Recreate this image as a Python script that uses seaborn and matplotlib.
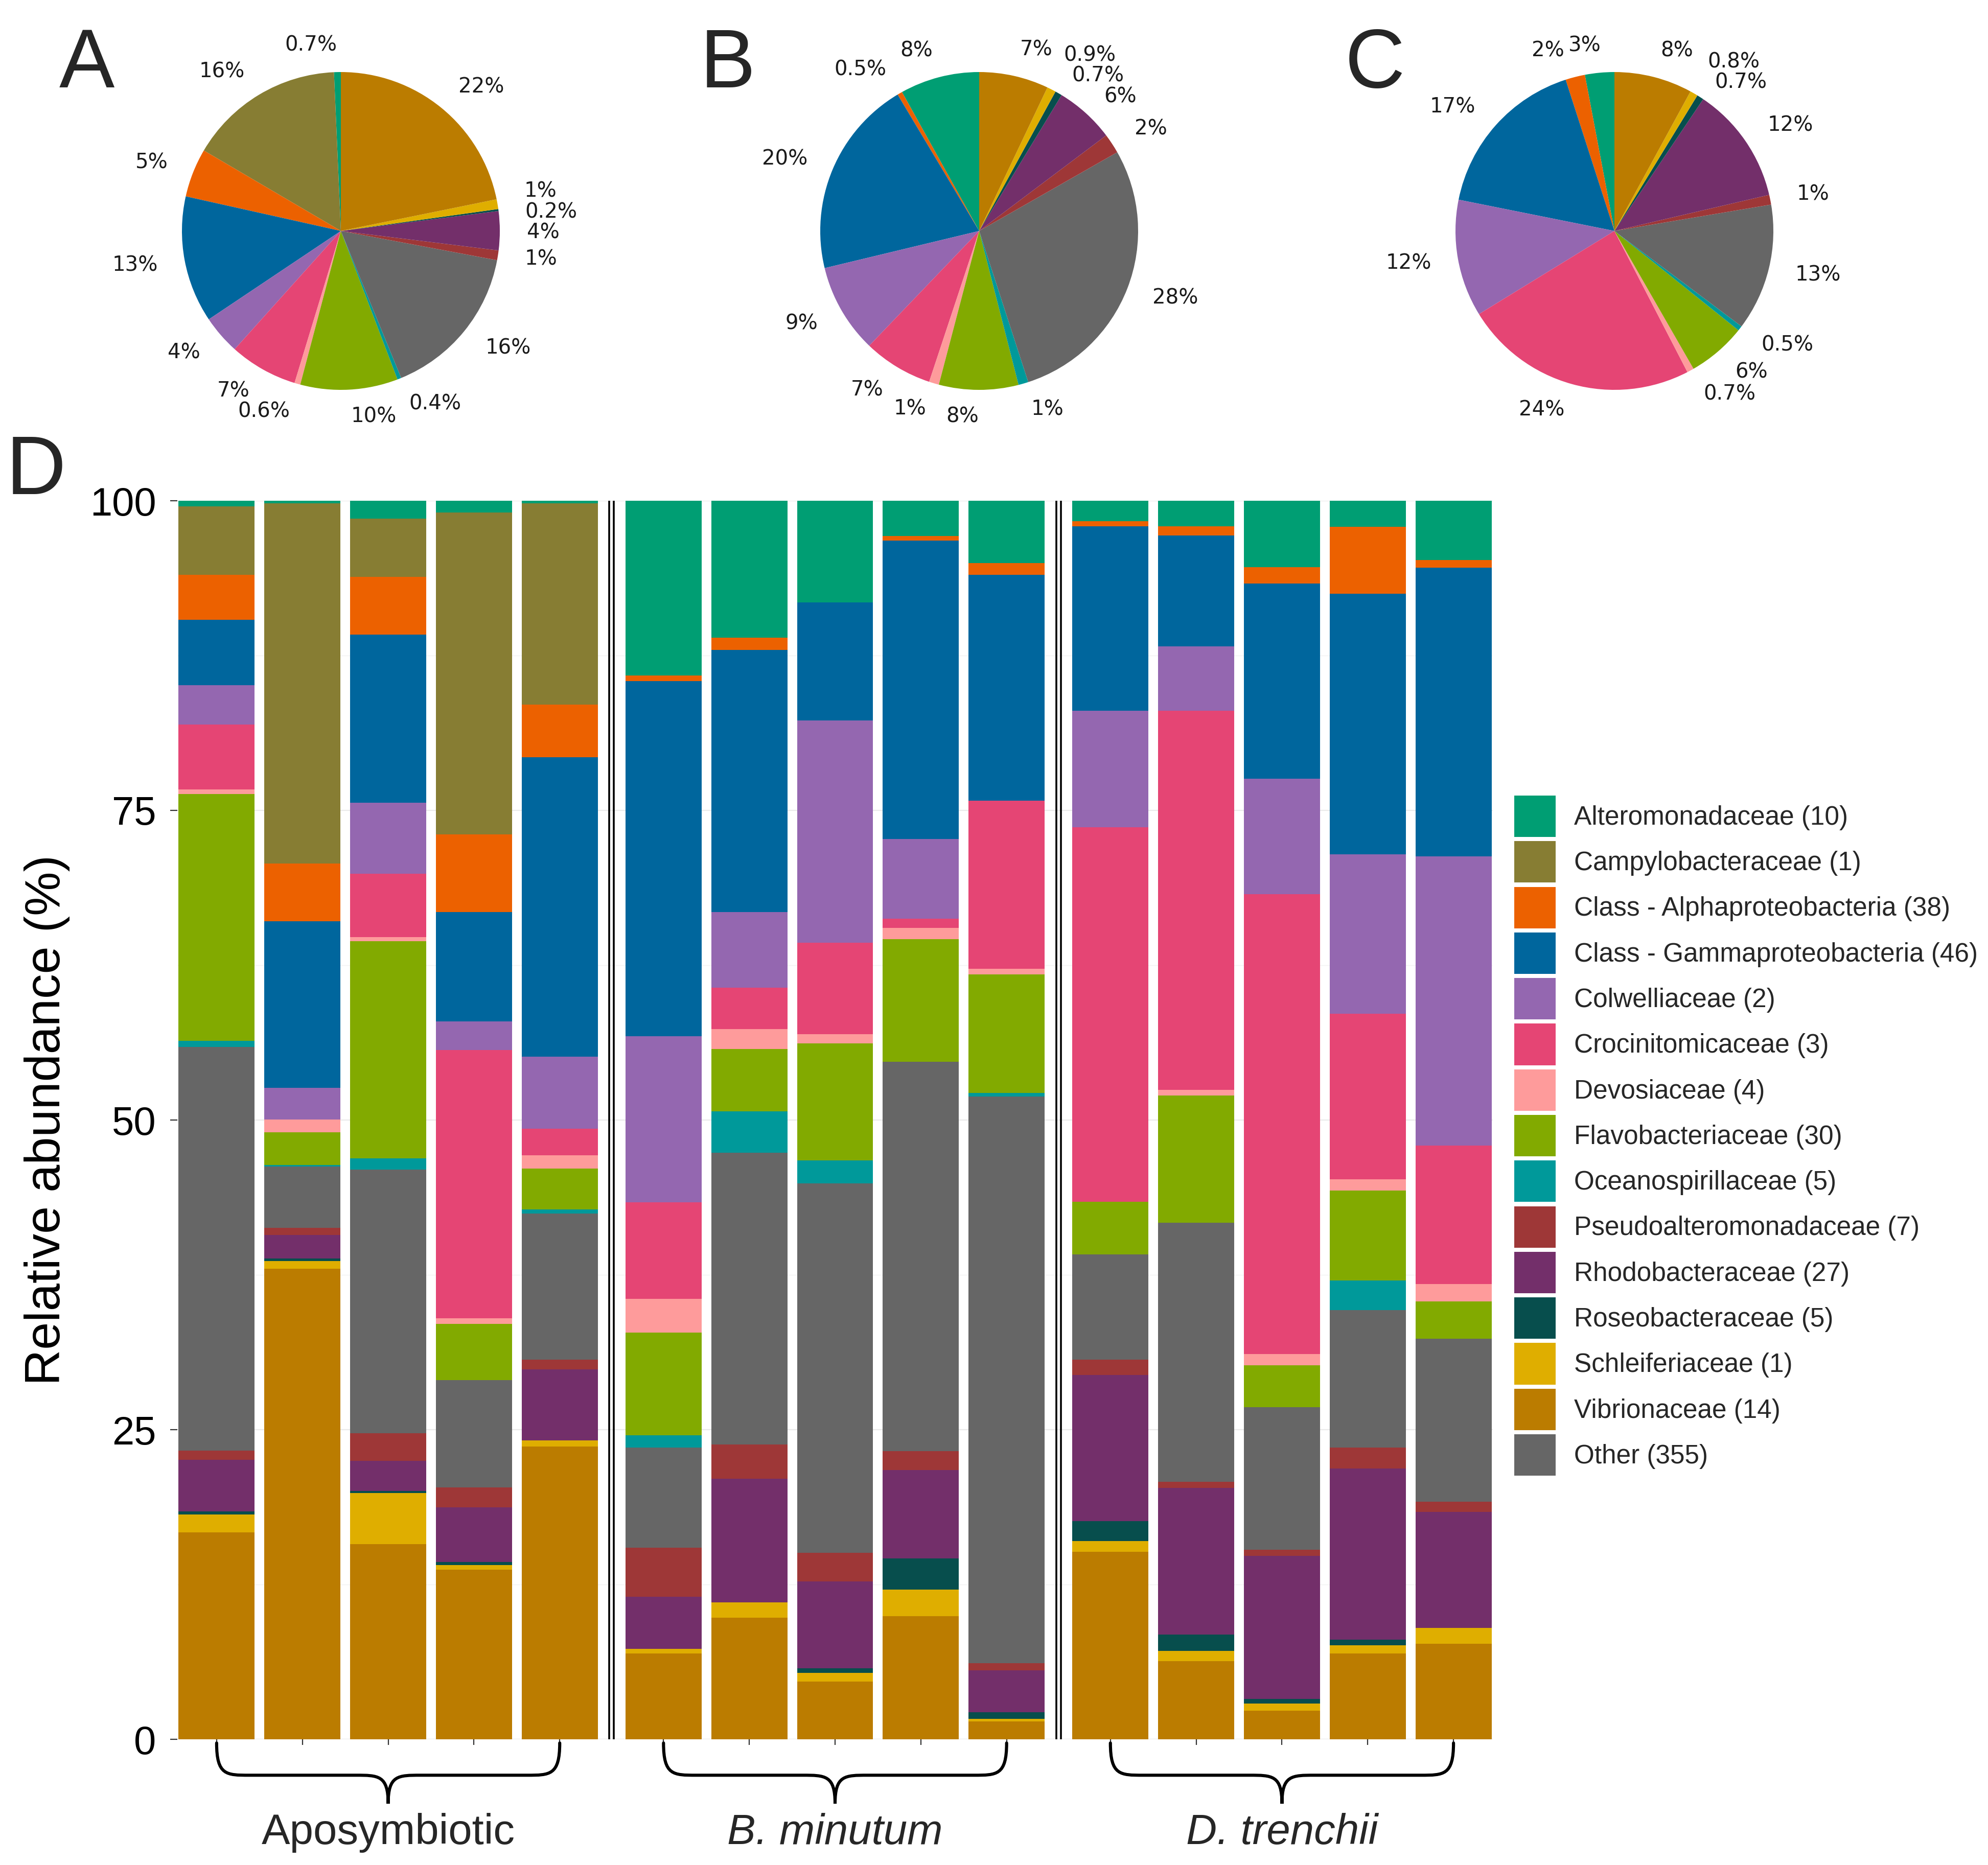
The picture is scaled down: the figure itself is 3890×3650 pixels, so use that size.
import numpy as np
import pandas as pd
import matplotlib
matplotlib.use("Agg")
import matplotlib.pyplot as plt
from matplotlib.patches import Patch, PathPatch
from matplotlib.path import Path
from matplotlib.transforms import blended_transform_factory
import seaborn as sns

# families in legend order (with number of ASVs)
families = ["Alteromonadaceae", "Campylobacteraceae", "Class - Alphaproteobacteria",
            "Class - Gammaproteobacteria", "Colwelliaceae", "Crocinitomicaceae",
            "Devosiaceae", "Flavobacteriaceae", "Oceanospirillaceae",
            "Pseudoalteromonadaceae", "Rhodobacteraceae", "Roseobacteraceae",
            "Schleiferiaceae", "Vibrionaceae", "Other"]
counts = [10, 1, 38, 46, 2, 3, 4, 30, 5, 7, 27, 5, 1, 14, 355]
colors = ["#009E73", "#877D33", "#EC6100", "#00669D", "#9467B0", "#E54574",
          "#FE9B9B", "#82AA00", "#00999A", "#9E3737", "#732F6A", "#074E4D",
          "#DFAE00", "#BB7C00", "#666666"]
palette = dict(zip(families, colors))

# alphabetical order incl. "Other" -> pie order (ccw from top) / stack order (top to bottom)
plot_order = families[:9] + ["Other"] + families[9:14]

# pie percentages, in plot_order
pie_apo = [0.7, 16, 5, 13, 4, 7, 0.6, 10, 0.4, 16, 1, 4, 0.2, 1, 22]
pie_bmin = [8, 0, 0.5, 20, 9, 7, 1, 8, 1, 28, 2, 6, 0.7, 0.9, 7]
pie_dtre = [3, 0, 2, 17, 12, 24, 0.7, 6, 0.5, 13, 1, 12, 0.7, 0.8, 8]

# relative abundance per sample (5 Aposymbiotic, 5 B. minutum, 5 D. trenchii)
groups = ["Aposymbiotic", "B. minutum", "D. trenchii"]
alteromonadaceae = [0.45, 0.2, 1.45, 0.95, 0.2, 14.1, 11.05, 8.2, 2.85, 5.05, 1.65, 2.05, 5.35, 2.1, 4.8]
campylobacteraceae = [5.55, 29.1, 4.7, 26.0, 16.25, 0, 0, 0, 0, 0, 0, 0, 0, 0, 0]
alphaproteobacteria = [3.6, 4.65, 4.65, 6.25, 4.25, 0.45, 1.0, 0, 0.35, 0.95, 0.4, 0.75, 1.35, 5.4, 0.6]
gammaproteobacteria = [5.3, 13.45, 13.6, 8.85, 24.2, 28.7, 21.15, 9.55, 24.1, 18.2, 14.9, 8.95, 15.75, 21.05, 23.3]
colwelliaceae = [3.15, 2.55, 5.7, 2.3, 5.8, 13.4, 6.1, 17.95, 6.45, 0, 9.4, 5.2, 9.3, 12.85, 23.35]
crocinitomicaceae = [5.25, 0, 5.15, 21.65, 2.15, 7.8, 3.35, 7.35, 0.75, 13.6, 30.25, 30.6, 37.15, 13.4, 11.2]
devosiaceae = [0.4, 1.05, 0.3, 0.45, 1.05, 2.7, 1.6, 0.75, 0.9, 0.45, 0, 0.45, 0.9, 0.9, 1.4]
flavobacteriaceae = [19.9, 2.65, 17.55, 4.55, 3.3, 8.3, 5.05, 9.45, 9.9, 9.55, 4.25, 10.3, 3.4, 7.25, 3.0]
oceanospirillaceae = [0.5, 0.1, 0.9, 0, 0.35, 1.0, 3.35, 1.85, 0, 0.3, 0, 0, 0, 2.4, 0]
other = [32.6, 4.95, 21.3, 8.65, 11.8, 8.1, 23.55, 29.85, 31.45, 45.75, 8.5, 20.9, 11.5, 11.1, 13.15]
pseudoalteromonadaceae = [0.75, 0.6, 2.2, 1.6, 0.8, 3.95, 2.75, 2.3, 1.5, 0.6, 1.25, 0.5, 0.5, 1.7, 0.85]
rhodobacteraceae = [4.15, 1.9, 2.45, 4.45, 5.7, 4.2, 10.0, 7.0, 7.15, 3.35, 11.8, 11.85, 11.55, 13.8, 9.35]
roseobacteraceae = [0.25, 0.2, 0.15, 0.25, 0, 0, 0, 0.4, 2.5, 0.55, 1.6, 1.3, 0.35, 0.45, 0]
schleiferiaceae = [1.45, 0.6, 4.15, 0.35, 0.5, 0.35, 1.25, 0.7, 2.15, 0.2, 0.85, 0.85, 0.6, 0.65, 1.3]
vibrionaceae = [16.7, 38.0, 15.75, 13.7, 23.65, 6.95, 9.8, 4.65, 9.95, 1.45, 15.15, 6.3, 2.3, 6.95, 7.7]

bar_values = dict(zip(plot_order, [
    alteromonadaceae, campylobacteraceae, alphaproteobacteria, gammaproteobacteria,
    colwelliaceae, crocinitomicaceae, devosiaceae, flavobacteriaceae, oceanospirillaceae,
    other, pseudoalteromonadaceae, rhodobacteraceae, roseobacteraceae, schleiferiaceae,
    vibrionaceae]))

sns.set_theme(style="white")
plt.rcParams["font.family"] = ["Liberation Sans", "DejaVu Sans"]

W, H = 3890, 3650
fig = plt.figure(figsize=(W / 100, H / 100), dpi=100)


def spread_labels(texts, min_gap=0.13, char_w=0.09, hgap=0.05):
    # push overlapping pie labels apart (sideways at the very top/bottom, vertically elsewhere)
    items = []
    for t in texts:
        if not t.get_text():
            continue
        x, y = t.get_position()
        w = len(t.get_text()) * char_w
        x0 = x if t.get_ha() == "left" else x - w
        items.append([t, x0, w, y])
    for _ in range(100):
        moved = False
        for i in range(len(items)):
            for j in range(i + 1, len(items)):
                a, b = items[i], items[j]
                ov = min(a[1] + a[2], b[1] + b[2]) - max(a[1], b[1])
                d = a[3] - b[3]
                if ov > -1e-6 and abs(d) < min_gap - 1e-6:
                    if abs(a[3]) > 1.05 and abs(b[3]) > 1.05:
                        push = (ov + hgap) / 2
                        s = 1 if a[1] >= b[1] else -1
                        a[1] += s * push
                        b[1] -= s * push
                    else:
                        push = (min_gap - abs(d)) / 2
                        s = 1 if d >= 0 else -1
                        a[3] += s * push
                        b[3] -= s * push
                    moved = True
        if not moved:
            break
    for t, x0, w, y in items:
        t.set_position((x0 if t.get_ha() == "left" else x0 + w, y))


# pies A-C
pie_r = 311
for cx, vals in zip([667, 1916, 3159], [pie_apo, pie_bmin, pie_dtre]):
    side = 2.5 * pie_r
    pax = fig.add_axes([(cx - side / 2) / W, 1 - (452 + side / 2) / H, side / W, side / H])
    keep = [(f, v) for f, v in zip(plot_order, vals) if v > 0]
    _, texts = pax.pie([v for _, v in keep], colors=[palette[f] for f, _ in keep],
                       labels=[f"{v:g}%" for _, v in keep], startangle=90,
                       counterclock=True, labeldistance=1.17,
                       wedgeprops=dict(linewidth=0),
                       textprops=dict(family="DejaVu Sans", fontsize=29, color="#1a1a1a"))
    spread_labels(texts)

# D: stacked bars
ax = fig.add_axes([347 / W, (H - 3404) / H, (2921 - 347) / W, (3404 - 980) / H])
n_per, gap = 5, 0.21
positions = [g * (n_per + gap) + i for g in range(len(groups)) for i in range(n_per)]

rows = []
cum = np.zeros(len(positions))
for fam in plot_order[::-1]:  # bottom to top
    cum = cum + np.array(bar_values[fam])
    rows += [(p, fam, c) for p, c in zip(positions, cum)]
df = pd.DataFrame(rows, columns=["pos", "family", "top"])

sns.barplot(data=df, x="pos", y="top", hue="family", hue_order=plot_order,
            palette=palette, dodge=False, native_scale=True, width=0.887,
            saturation=1, errorbar=None, legend=False, linewidth=0, ax=ax)

ax.set_xlim(positions[0] - 0.458, positions[-1] + 0.458)
ax.set_ylim(0, 100)
ax.set_yticks([0, 25, 50, 75, 100])
ax.set_yticks([12.5, 37.5, 62.5, 87.5], minor=True)
ax.set_xticks(positions)
ax.set_xticklabels([])
ax.set_xlabel("")
ax.set_axisbelow(True)
ax.grid(axis="y", which="major", color="#EBEBEB", lw=1.6)
ax.grid(axis="y", which="minor", color="#F2F2F2", lw=1.0)
ax.grid(axis="x", visible=False)
for s in ax.spines.values():
    s.set_visible(False)
ax.tick_params(axis="y", which="major", length=10, width=1.6, color="#333333",
               labelsize=56, pad=20, labelcolor="black", left=True)
ax.tick_params(axis="y", which="minor", length=0)
ax.tick_params(axis="x", length=8, width=1.6, color="#333333", bottom=True)
ax.set_ylabel("Relative abundance (%)", fontsize=70, labelpad=28, color="black")

# double separators between groups
for g in range(1, len(groups)):
    xs = g * (n_per + gap) - 0.5 - gap / 2
    for off in (-0.028, 0.028):
        ax.axvline(xs + off, color="black", lw=2.6, zorder=5)

# curly braces + group labels
trans = blended_transform_factory(ax.transData, ax.transAxes)
for g, name in enumerate(groups):
    x0 = positions[g * n_per]
    x1 = positions[g * n_per + n_per - 1]
    xm = (x0 + x1) / 2
    top, flat, tip, c = -0.003, -0.029, -0.052, 0.38
    verts = [(x0, top), (x0, flat), (x0 + c * 0.3, flat), (x0 + c, flat),
             (xm - c, flat),
             (xm - c * 0.3, flat), (xm, flat), (xm, tip),
             (xm, flat), (xm + c * 0.3, flat), (xm + c, flat),
             (x1 - c, flat),
             (x1 - c * 0.3, flat), (x1, flat), (x1, top)]
    codes = [Path.MOVETO] + [Path.CURVE4] * 3 + [Path.LINETO] + [Path.CURVE4] * 6 \
        + [Path.LINETO] + [Path.CURVE4] * 3
    ax.add_patch(PathPatch(Path(verts, codes), transform=trans, fill=False,
                           lw=4.4, color="black", clip_on=False, capstyle="round"))
    ax.text(xm, -0.0846, name, transform=trans, ha="center", va="baseline",
            fontsize=60, style="normal" if g == 0 else "italic")

# legend
handles = [Patch(facecolor=palette[f], edgecolor="none") for f in families]
labels = [f"{f} ({n})" for f, n in zip(families, counts)]
fig.legend(handles, labels, loc="upper left", bbox_to_anchor=(2963 / W, 1 - 1557 / H),
           frameon=False, fontsize=37, handlelength=1.575, handleheight=2.05,
           labelspacing=0.16, handletextpad=0.7, borderpad=0, borderaxespad=0)

# panel letters
for letter, x, y in [("A", 116, 171), ("B", 1370, 171), ("C", 2632, 171), ("D", 12, 967)]:
    fig.text(x / W, 1 - y / H, letter, fontsize=117, ha="left", va="baseline")

fig.savefig("out.png", dpi=100)
